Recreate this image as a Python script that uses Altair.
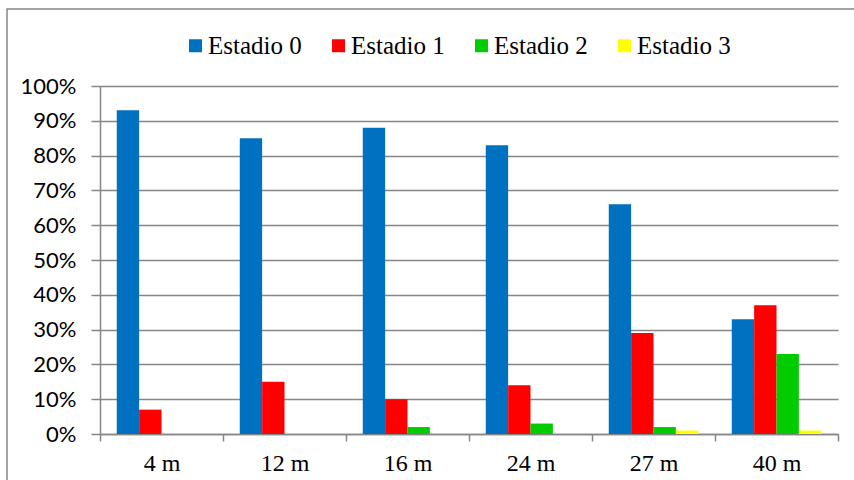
import altair as alt
import pandas as pd

meses = ["4 m", "12 m", "16 m", "24 m", "27 m", "40 m"]
estadios = ["Estadio 0", "Estadio 1", "Estadio 2", "Estadio 3"]
estadio0 = [0.93, 0.85, 0.88, 0.83, 0.66, 0.33]
estadio1 = [0.07, 0.15, 0.10, 0.14, 0.29, 0.37]
estadio2 = [0.00, 0.00, 0.02, 0.03, 0.02, 0.23]
estadio3 = [0.00, 0.00, 0.00, 0.00, 0.01, 0.01]
colores = ["#0070C0", "#FF0000", "#00CC00", "#FFFF00"]
y_ticks = [i / 10 for i in range(11)]

rows = []
for est, serie in zip(estadios, [estadio0, estadio1, estadio2, estadio3]):
    for m, v in zip(meses, serie):
        rows.append({"mes": m, "estadio": est, "valor": v})
df = pd.DataFrame(rows)

GRAY = "#868686"
SERIF = "Liberation Serif"

bars = alt.Chart(df).mark_bar().encode(
    x=alt.X("mes:N", sort=meses, title=None,
            scale=alt.Scale(paddingInner=0, paddingOuter=0),
            axis=alt.Axis(tickBand="extent", labelAngle=0, labelFont=SERIF,
                          labelFontSize=24, labelColor="black", labelPadding=10,
                          tickSize=7, tickColor=GRAY, domainColor=GRAY, tickWidth=1.5,
                          domainWidth=1.5, grid=False)),
    xOffset=alt.XOffset("estadio:N", sort=estadios,
                        scale=alt.Scale(paddingInner=0, paddingOuter=0.75)),
    y=alt.Y("valor:Q", title=None,
            scale=alt.Scale(domain=[0, 1], nice=False),
            axis=alt.Axis(values=y_ticks, format=".0%", labelFont="Lato", labelFontSize=22,
                          labelColor="black", labelPadding=15, tickSize=9, tickColor=GRAY,
                          tickWidth=1.5, domainColor=GRAY, domainWidth=1.5,
                          grid=True, gridColor=GRAY, gridWidth=1.5)),
    color=alt.Color("estadio:N", sort=estadios,
                    scale=alt.Scale(domain=estadios, range=colores),
                    legend=alt.Legend(title=None, orient="none", legendX=83, legendY=-53,
                                      direction="horizontal", symbolType="square",
                                      symbolSize=169, symbolStrokeWidth=0,
                                      labelFont=SERIF, labelFontSize=25,
                                      labelColor="black", labelOffset=0, columnPadding=24)),
)

border = alt.Chart(pd.DataFrame({"a": [0]})).mark_rect(
    fillOpacity=0, stroke=GRAY, strokeWidth=1.5
).encode(
    x=alt.value(-93), x2=alt.value(800), y=alt.value(-77), y2=alt.value(500)
)

chart = alt.layer(border, bars).properties(
    width=738, height=348,
    padding={"left": 100, "top": 86, "right": 16, "bottom": 46},
    autosize=alt.AutoSizeParams(type="none"),
    background="white",
).configure_view(stroke="transparent")

chart.save("out.html", embed_options={"renderer": "svg", "actions": False})
